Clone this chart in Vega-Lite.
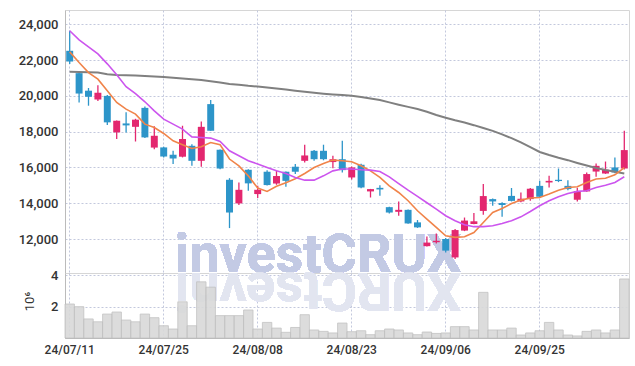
{
"$schema": "https://vega.github.io/schema/vega-lite/v6.json",
"padding": {"left": 17, "top": 9, "right": 8, "bottom": 5},
"spacing": 0,
"bounds": "flush",
"config": {
  "view": {"stroke": "#d6d6d6"},
  "axis": {"labelFont": "Roboto", "labelFontSize": 13, "labelColor": "#333333", "labelFontWeight": 500, "ticks": false, "gridColor": "#c3c8dd", "gridDash": [2, 2], "gridWidth": 1, "domainColor": "#bbbbbb", "titleFont": "Roboto", "titleFontWeight": "normal", "titleColor": "#333333"}
},
"data": {"values": [
{"d":"24/07/11","o":22520,"h":23640,"l":21780,"c":21920,"v":2160000,"m5":22460,"m20":23640,"m120":21346},
{"d":"24/07/12","o":21270,"h":21300,"l":19630,"c":20130,"v":1990000,"m5":21865,"m20":23130,"m120":21335},
{"d":"24/07/15","o":20290,"h":20440,"l":19450,"c":19950,"v":1210000,"m5":21305,"m20":22740,"m120":21318},
{"d":"24/07/16","o":19800,"h":20600,"l":19710,"c":20170,"v":1030000,"m5":20935,"m20":22350,"m120":21300},
{"d":"24/07/17","o":20000,"h":20050,"l":18370,"c":18520,"v":1520000,"m5":20285,"m20":21790,"m120":21210},
{"d":"24/07/18","o":17960,"h":18620,"l":17590,"c":18610,"v":1650000,"m5":19630,"m20":21180,"m120":21166},
{"d":"24/07/19","o":18460,"h":19080,"l":17950,"c":18350,"v":1140000,"m5":19260,"m20":20510,"m120":21150},
{"d":"24/07/22","o":18270,"h":18720,"l":17450,"c":18670,"v":1030000,"m5":18980,"m20":20120,"m120":21133},
{"d":"24/07/23","o":19330,"h":19400,"l":17650,"c":17680,"v":1520000,"m5":18420,"m20":19670,"m120":21117},
{"d":"24/07/24","o":17110,"h":18300,"l":17020,"c":17770,"v":1290000,"m5":18230,"m20":19165,"m120":21084},
{"d":"24/07/25","o":17120,"h":17150,"l":16560,"c":16610,"v":780000,"m5":17900,"m20":18700,"m120":21050},
{"d":"24/07/26","o":16710,"h":16930,"l":16190,"c":16500,"v":570000,"m5":17490,"m20":18420,"m120":21016},
{"d":"24/07/29","o":16600,"h":18330,"l":16560,"c":17590,"v":2300000,"m5":17270,"m20":18140,"m120":20966},
{"d":"24/07/30","o":17210,"h":17300,"l":16090,"c":16370,"v":780000,"m5":17060,"m20":17710,"m120":20927},
{"d":"24/07/31","o":16370,"h":18570,"l":16040,"c":18270,"v":3570000,"m5":17155,"m20":17675,"m120":20882},
{"d":"24/08/01","o":19540,"h":19770,"l":18050,"c":18050,"v":3230000,"m5":17395,"m20":17640,"m120":20815},
{"d":"24/08/02","o":16990,"h":17000,"l":15900,"c":15940,"v":1420000,"m5":17270,"m20":17450,"m120":20743},
{"d":"24/08/05","o":15310,"h":15400,"l":12610,"c":13480,"v":1420000,"m5":16470,"m20":16930,"m120":20665},
{"d":"24/08/06","o":13990,"h":15160,"l":13900,"c":14750,"v":1420000,"m5":16090,"m20":16650,"m120":20620},
{"d":"24/08/07","o":15870,"h":15900,"l":14700,"c":15110,"v":1780000,"m5":15530,"m20":16370,"m120":20564},
{"d":"24/08/08","o":14510,"h":14970,"l":14290,"c":14750,"v":570000,"m5":14850,"m20":16190,"m120":20520},
{"d":"24/08/09","o":15760,"h":15850,"l":14990,"c":15015,"v":990000,"m5":14660,"m20":15995,"m120":20463},
{"d":"24/08/12","o":15100,"h":15810,"l":15030,"c":15520,"v":630000,"m5":14950,"m20":15810,"m120":20408},
{"d":"24/08/13","o":15760,"h":15780,"l":14920,"c":15250,"v":360000,"m5":15150,"m20":15660,"m120":20352},
{"d":"24/08/14","o":16040,"h":16190,"l":15630,"c":15760,"v":670000,"m5":15370,"m20":15440,"m120":20290},
{"d":"24/08/16","o":16370,"h":17270,"l":16280,"c":16670,"v":1480000,"m5":15660,"m20":15290,"m120":20234},
{"d":"24/08/19","o":16930,"h":16980,"l":16370,"c":16460,"v":510000,"m5":15995,"m20":15290,"m120":20173},
{"d":"24/08/20","o":16930,"h":17270,"l":16400,"c":16460,"v":420000,"m5":16220,"m20":15530,"m120":20123},
{"d":"24/08/21","o":16300,"h":16650,"l":15960,"c":16460,"v":320000,"m5":16410,"m20":15810,"m120":20083},
{"d":"24/08/22","o":16460,"h":17490,"l":15720,"c":15850,"v":950000,"m5":16370,"m20":15910,"m120":20050},
{"d":"24/08/23","o":15440,"h":16050,"l":15330,"c":16000,"v":400000,"m5":16315,"m20":15910,"m120":20011},
{"d":"24/08/26","o":16150,"h":16200,"l":14830,"c":14880,"v":460000,"m5":16090,"m20":15870,"m120":19938},
{"d":"24/08/27","o":14660,"h":14800,"l":14320,"c":14790,"v":210000,"m5":15810,"m20":15850,"m120":19849},
{"d":"24/08/28","o":14860,"h":15010,"l":14420,"c":14770,"v":460000,"m5":15440,"m20":15775,"m120":19765},
{"d":"24/08/29","o":13780,"h":13800,"l":13430,"c":13480,"v":570000,"m5":14970,"m20":15470,"m120":19637},
{"d":"24/08/30","o":13520,"h":14100,"l":13300,"c":13630,"v":510000,"m5":14600,"m20":15100,"m120":19508},
{"d":"24/09/02","o":13630,"h":13650,"l":12850,"c":12870,"v":320000,"m5":14140,"m20":14730,"m120":19386},
{"d":"24/09/03","o":12930,"h":13060,"l":12620,"c":12650,"v":210000,"m5":13580,"m20":14380,"m120":19268},
{"d":"24/09/04","o":11600,"h":12140,"l":11580,"c":11800,"v":380000,"m5":13115,"m20":14025,"m120":19111},
{"d":"24/09/05","o":11820,"h":12310,"l":11750,"c":11900,"v":290000,"m5":12650,"m20":13670,"m120":18933},
{"d":"24/09/06","o":12000,"h":12050,"l":11250,"c":11350,"v":320000,"m5":12180,"m20":13300,"m120":18782},
{"d":"24/09/09","o":10970,"h":12560,"l":10880,"c":12500,"v":720000,"m5":12090,"m20":13020,"m120":18637},
{"d":"24/09/10","o":12470,"h":13200,"l":12440,"c":13030,"v":720000,"m5":12125,"m20":12800,"m120":18508},
{"d":"24/09/11","o":12840,"h":13450,"l":12820,"c":12990,"v":510000,"m5":12365,"m20":12690,"m120":18363},
{"d":"24/09/12","o":13570,"h":15070,"l":13350,"c":14400,"v":2900000,"m5":12925,"m20":12690,"m120":18201},
{"d":"24/09/13","o":14230,"h":14270,"l":13860,"c":14100,"v":510000,"m5":13480,"m20":12740,"m120":18044},
{"d":"24/09/19","o":14010,"h":14050,"l":13240,"c":13900,"v":510000,"m5":13705,"m20":12870,"m120":17849},
{"d":"24/09/20","o":14410,"h":14850,"l":14100,"c":14130,"v":630000,"m5":13985,"m20":13020,"m120":17637},
{"d":"24/09/23","o":14100,"h":14600,"l":14050,"c":14250,"v":190000,"m5":14175,"m20":13240,"m120":17402},
{"d":"24/09/24","o":14230,"h":14850,"l":14140,"c":14810,"v":320000,"m5":14290,"m20":13540,"m120":17134},
{"d":"24/09/25","o":14970,"h":15250,"l":14330,"c":14360,"v":460000,"m5":14320,"m20":13860,"m120":16865},
{"d":"24/09/26","o":15160,"h":15530,"l":14880,"c":15250,"v":990000,"m5":14510,"m20":14140,"m120":16692},
{"d":"24/09/27","o":15310,"h":15940,"l":15180,"c":15240,"v":510000,"m5":14730,"m20":14360,"m120":16541},
{"d":"24/09/30","o":14970,"h":15290,"l":14720,"c":14790,"v":190000,"m5":14880,"m20":14545,"m120":16407},
{"d":"24/10/02","o":14190,"h":14860,"l":14100,"c":14690,"v":130000,"m5":14920,"m20":14660,"m120":16251},
{"d":"24/10/04","o":14660,"h":15720,"l":14640,"c":15630,"v":420000,"m5":15160,"m20":14700,"m120":16106},
{"d":"24/10/07","o":15770,"h":16220,"l":15480,"c":16090,"v":510000,"m5":15350,"m20":14880,"m120":15971},
{"d":"24/10/08","o":15660,"h":16330,"l":15640,"c":15870,"v":320000,"m5":15400,"m20":15010,"m120":15860},
{"d":"24/10/10","o":16000,"h":16560,"l":15680,"c":15720,"v":510000,"m5":15590,"m20":15160,"m120":15765},
{"d":"24/10/11","o":15940,"h":18050,"l":15880,"c":16970,"v":3750000,"m5":15995,"m20":15480,"m120":15664}
]},
"vconcat": [
  {
    "width": 564,
    "height": 263,
    "encoding": {
      "x": {"field": "d", "type": "ordinal", "sort": "ascending", "title": null,
            "scale": {"paddingInner": 0, "paddingOuter": 0},
            "axis": {"labels": false, "domain": false, "grid": true,
                     "values": ["24/07/11","24/07/25","24/08/08","24/08/23","24/09/06","24/09/25"]}}
    },
    "layer": [
      {
        "mark": {"type": "text", "text": "investCRUX", "font": "Roboto", "fontSize": 54, "fontWeight": "bold", "color": "#C3CAE4", "opacity": 0.9, "align": "center", "baseline": "alphabetic", "dx": 4},
        "encoding": {"x": {"datum": "24/08/19"}, "y": {"datum": 10150, "type": "quantitative"}}
      },
      {
        "mark": {"type": "rule", "strokeWidth": 1.3},
        "encoding": {
          "y": {"field": "l", "type": "quantitative", "title": null,
                "scale": {"domain": [10100, 24800], "nice": false, "zero": false},
                "axis": {"values": [12000, 14000, 16000, 18000, 20000, 22000, 24000], "format": ",d", "labelPadding": 7, "grid": true, "domain": true}},
          "y2": {"field": "h"},
          "color": {"condition": {"test": "datum.c >= datum.o", "value": "#E3276F"}, "value": "#2D95C9"}
        }
      },
      {
        "mark": {"type": "bar", "width": {"band": 0.74}},
        "encoding": {
          "y": {"field": "o", "type": "quantitative"},
          "y2": {"field": "c"},
          "color": {"condition": {"test": "datum.c >= datum.o", "value": "#E3276F"}, "value": "#2D95C9"}
        }
      },
      {
        "mark": {"type": "line", "color": "#808080", "strokeWidth": 2},
        "encoding": {"y": {"field": "m120", "type": "quantitative"}}
      },
      {
        "mark": {"type": "line", "color": "#F0844A", "strokeWidth": 1.6},
        "encoding": {"y": {"field": "m5", "type": "quantitative"}}
      },
      {
        "mark": {"type": "line", "color": "#CC55EE", "strokeWidth": 1.6},
        "encoding": {"y": {"field": "m20", "type": "quantitative"}}
      }
    ]
  },
  {
    "width": 564,
    "height": 65,
    "encoding": {
      "x": {"field": "d", "type": "ordinal", "sort": "ascending", "title": null,
            "scale": {"paddingInner": 0, "paddingOuter": 0},
            "axis": {"labelAngle": 0, "labelFontSize": 12, "labelPadding": 6, "grid": true, "domain": true,
                     "values": ["24/07/11","24/07/25","24/08/08","24/08/23","24/09/06","24/09/25"]}}
    },
    "layer": [
      {
        "mark": {"type": "text", "text": "XURCtsevni", "font": "Roboto", "fontSize": 54, "fontWeight": "bold", "color": "#E2E5F0", "opacity": 1, "align": "center", "baseline": "alphabetic", "angle": 180, "dx": -4},
        "encoding": {"x": {"datum": "24/08/19"}, "y": {"datum": 4130000, "type": "quantitative"}}
      },
      {
        "mark": {"type": "bar", "width": {"band": 1}, "color": "#D9D9D9", "stroke": "#BDBDBD", "strokeWidth": 0.8, "opacity": 0.9},
        "encoding": {
          "y": {"field": "v", "type": "quantitative", "title": "10⁶",
                "scale": {"domain": [0, 4130000], "nice": false},
                "axis": {"values": [2000000, 4000000], "labelExpr": "datum.value == 4000000 ? '4' : '2'", "labelOverlap": false, "labelBound": false, "labelPadding": 7, "titlePadding": 14, "titleFontSize": 13, "titleY": 28, "titleAnchor": null, "grid": true, "domain": true}}
        }
      }
    ]
  }
]
}
